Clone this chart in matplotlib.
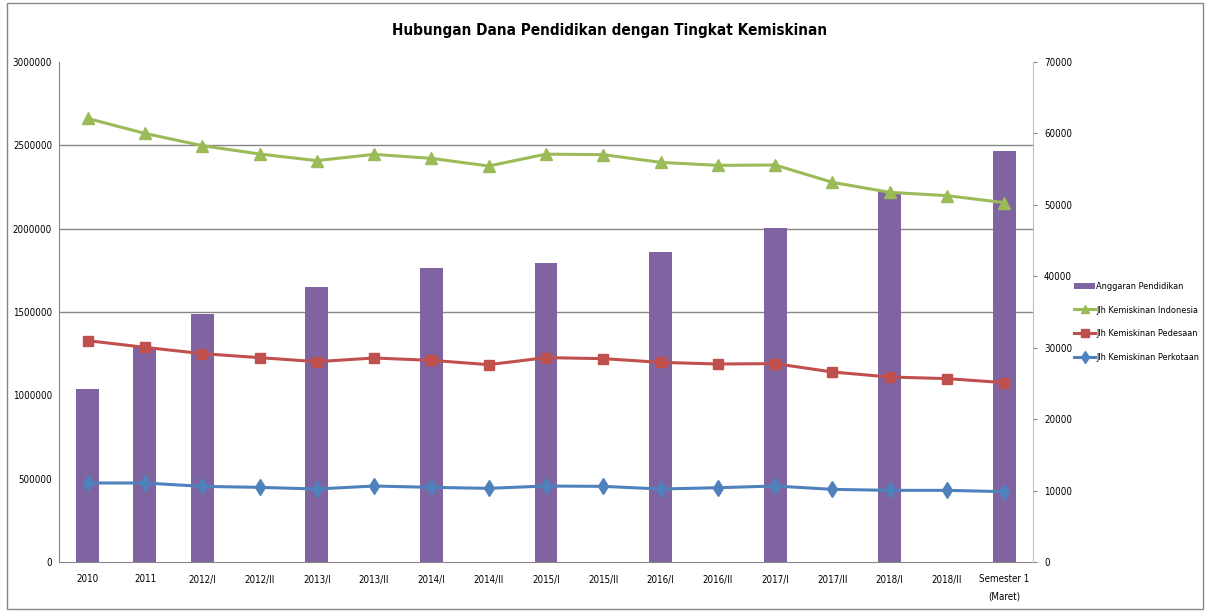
import matplotlib
matplotlib.use("Agg")
import matplotlib.pyplot as plt
from matplotlib.patches import Rectangle
from matplotlib import font_manager
from matplotlib.font_manager import FontProperties
import numpy as np

categories = ["2010", "2011", "2012/I", "2012/II", "2013/I", "2013/II", "2014/I", "2014/II",
              "2015/I", "2015/II", "2016/I", "2016/II", "2017/I", "2017/II", "2018/I", "2018/II",
              "Semester 1\n(Maret)"]
anggaran = [1040000, 1290000, 1488000, np.nan, 1650000, np.nan, 1764000, np.nan,
            1794000, np.nan, 1860000, np.nan, 2004000, np.nan, 2220000, np.nan, 2466000]
indonesia = [62100, 60000, 58290, 57120, 56190, 57070, 56510, 55440, 57100, 57030,
             55950, 55530, 55580, 53150, 51750, 51290, 50310]
pedesaan = [30990, 30050, 29170, 28610, 28050, 28560, 28230, 27630, 28610, 28470,
            27950, 27720, 27770, 26600, 25900, 25670, 25110]
perkotaan = [11060, 11060, 10590, 10450, 10220, 10640, 10450, 10310, 10640, 10590,
             10220, 10400, 10640, 10170, 10030, 10030, 9850]
left_ticks = [0, 500000, 1000000, 1500000, 2000000, 2500000, 3000000]
right_ticks = [0, 10000, 20000, 30000, 40000, 50000, 60000, 70000]

# choose condensed fonts (regular-ish for body text, bold for title) if installed
def wnum(w):
    if isinstance(w, int):
        return w
    return {"light": 300, "normal": 400, "regular": 400, "book": 400, "medium": 500,
            "semibold": 600, "demibold": 600, "bold": 700, "heavy": 800, "black": 900}.get(str(w).lower(), 400)

cands = [f for f in font_manager.fontManager.ttflist
         if ("Narrow" in f.name or "Condensed" in f.name or f.stretch in ("condensed", "semi-condensed"))
         and f.style == "normal"]
body = [f for f in cands if wnum(f.weight) < 600]
bold = [f for f in cands if wnum(f.weight) >= 600]
body.sort(key=lambda f: abs(wnum(f.weight) - 400))
bold.sort(key=lambda f: abs(wnum(f.weight) - 700))

if body:
    body_fp = dict(fname=body[0].fname)
    fs = 7
    lfs = 6.6
else:
    body_fp = dict(family=["Liberation Sans", "DejaVu Sans"])
    fs = 6.3
    lfs = 6.0
if bold:
    title_fp = FontProperties(fname=bold[0].fname, size=11)
else:
    title_fp = FontProperties(family=["Liberation Sans", "DejaVu Sans"], weight="bold", size=9.5)

def bfp(size):
    return FontProperties(size=size, **body_fp)

fig = plt.figure(figsize=(12.08, 6.12), dpi=100)
ax = fig.add_axes([59/1208, 1-562/612, (1033-59)/1208, (562-62)/612])
ax2 = ax.twinx()

x = np.arange(len(categories))
ax.bar(x, anggaran, width=0.4, color="#8064A2", label="Anggaran Pendidikan", zorder=2)
ax.set_ylim(0, 3000000)
ax.set_xlim(-0.5, len(categories)-0.5)
ax.set_yticks(left_ticks)
ax.set_yticklabels([str(v) for v in left_ticks], fontproperties=bfp(fs))
for g in [1500000, 2000000, 2500000]:
    ax.axhline(g, color="#868686", lw=1, zorder=1)
ax.set_xticks(x)
ax.set_xticklabels(categories, fontproperties=bfp(fs), linespacing=1.9, va="top")
ax.tick_params(axis="x", length=0, pad=9)
ax.tick_params(axis="y", length=0, pad=5)
for s in ["top", "right"]:
    ax.spines[s].set_visible(False)
ax.spines["left"].set_color("#868686")
ax.spines["bottom"].set_color("#868686")

l1, = ax2.plot(x, indonesia, color="#9BBB59", lw=2.2, marker="^", ms=8, label="Jlh Kemiskinan Indonesia", zorder=3)
l2, = ax2.plot(x, pedesaan, color="#C0504D", lw=2.2, marker="s", ms=7, label="Jlh Kemiskinan Pedesaan", zorder=3)
l3, = ax2.plot(x, perkotaan, color="#4F81BD", lw=2.2, marker="d", ms=8, label="Jlh Kemiskinan Perkotaan", zorder=3)
ax2.set_ylim(0, 70000)
ax2.set_yticks(right_ticks)
ax2.set_yticklabels([str(v) for v in right_ticks], fontproperties=bfp(fs))
ax2.tick_params(axis="y", length=3, color="#868686", pad=5)
for s in ["top", "left", "bottom"]:
    ax2.spines[s].set_visible(False)
ax2.spines["right"].set_color("#BFBFBF")

h1, lab1 = ax.get_legend_handles_labels()
fig.legend(h1 + [l1, l2, l3], lab1 + [l1.get_label(), l2.get_label(), l3.get_label()],
           loc="center left", bbox_to_anchor=(1066/1208, 1-322/612), frameon=False,
           prop=bfp(lfs), handlelength=2.3, labelspacing=1.6, handletextpad=0.1,
           markerscale=0.75)

fig.text(610/1208, 1-31/612, "Hubungan Dana Pendidikan dengan Tingkat Kemiskinan",
         ha="center", va="center", fontproperties=title_fp)
fig.patches.append(Rectangle((7/1208, 3/612), 1196/1208, 606/612, transform=fig.transFigure,
                             fill=False, ec="#868686", lw=1))
fig.savefig("out.png", dpi=100)
